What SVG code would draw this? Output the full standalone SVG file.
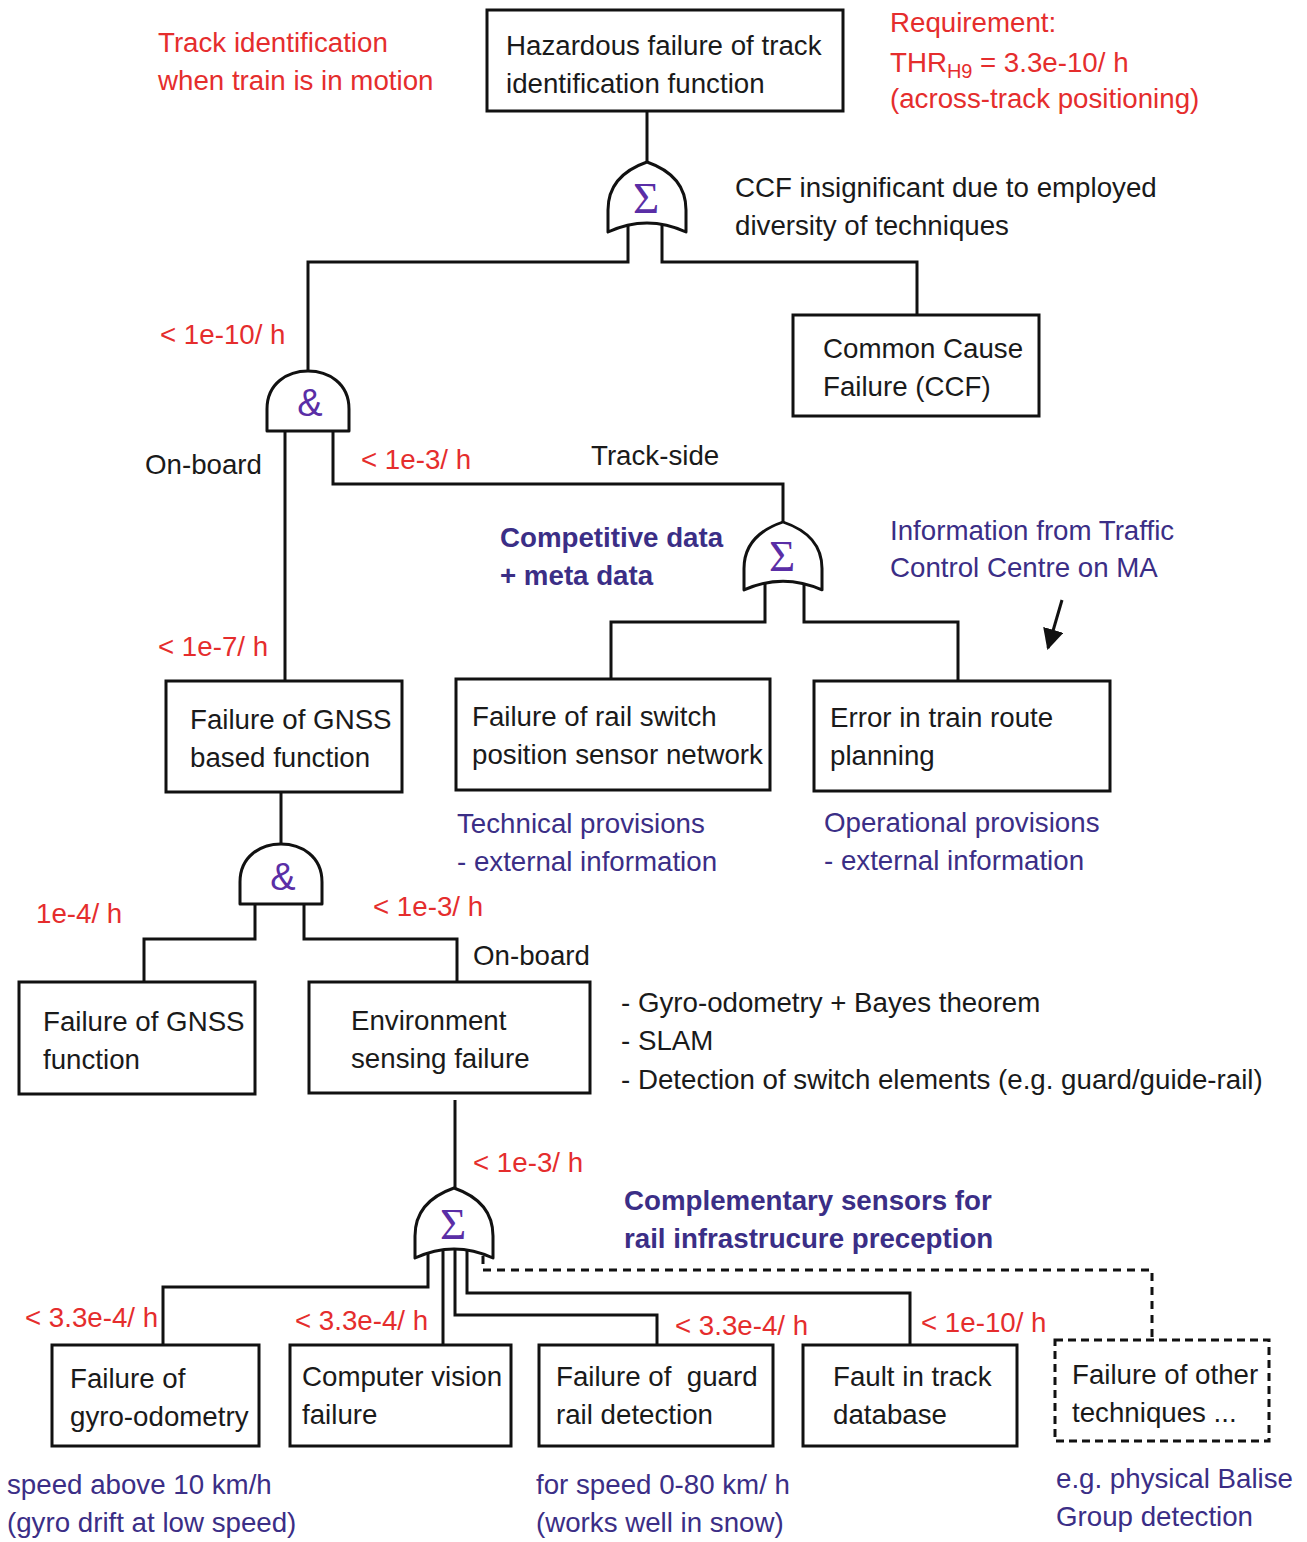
<svg xmlns="http://www.w3.org/2000/svg" width="1307" height="1542" viewBox="0 0 1307 1542">
  <style>
    text { font-family: "Liberation Sans", Arial, sans-serif; font-size: 27.7px; }
    .blk { fill: #1a1a1a; }
    .red { fill: #e52d2d; }
    .pur { fill: #3b2e86; }
    .bold { font-weight: bold; }
    .box { fill: #ffffff; stroke: #111111; stroke-width: 3; }
    .dbox { fill: #ffffff; stroke: #111111; stroke-width: 3; stroke-dasharray: 8 5; }
    .gate { fill: #ffffff; stroke: #111111; stroke-width: 3; stroke-linejoin: round; }
    .wire { fill: none; stroke: #111111; stroke-width: 3; }
    .dwire { fill: none; stroke: #111111; stroke-width: 3; stroke-dasharray: 8 6; }
    .sym { fill: #5a2ea6; text-anchor: middle; }
    .sigma { font-family: "Liberation Serif", "Times New Roman", serif; font-size: 45px; }
    .amp { font-size: 38px; }
  </style>
  <defs>
    <!-- OR gate, origin at the apex -->
    <path id="orGate" d="M0,0 C23,8 39,23 39,48 L39,70 Q0,52 -39,70 L-39,48 C-39,23 -23,8 0,0 Z"/>
    <!-- AND gate, origin at the top of the dome -->
    <path id="andGate" d="M-41,60 L-41,38 C-41,12 -20,0 0,0 C20,0 41,12 41,38 L41,60 Z"/>
    <marker id="head" viewBox="0 0 10 10" refX="9" refY="5" markerWidth="7" markerHeight="7" orient="auto" markerUnits="strokeWidth">
      <path d="M0,0 L10,5 L0,10 Z" fill="#111111"/>
    </marker>
  </defs>
  <rect width="1307" height="1542" fill="#ffffff"/>

  <!-- connectors -->
  <g id="connectors">
    <path class="wire" d="M647,111 V162"/>
    <path class="wire" d="M628,222 V262 H308 V371"/>
    <path class="wire" d="M662,222 V262 H917 V315"/>
    <path class="wire" d="M285,428 V681"/>
    <path class="wire" d="M333,428 V484 H783 V522"/>
    <path class="wire" d="M765,582 V622 H611 V679"/>
    <path class="wire" d="M804,582 V622 H958 V681"/>
    <path class="wire" d="M281,792 V844"/>
    <path class="wire" d="M255,902 V939 H144 V982"/>
    <path class="wire" d="M304,902 V939 H457 V982"/>
    <path class="wire" d="M455,1100 V1188"/>
    <path class="wire" d="M428,1250 V1287 H163 V1345"/>
    <path class="wire" d="M443,1250 V1345"/>
    <path class="wire" d="M455,1250 V1315 H657 V1345"/>
    <path class="wire" d="M467,1250 V1293 H910 V1345"/>
    <path class="dwire" d="M483,1256 V1270 H1152 V1340"/>
    <path class="wire" stroke-width="2" d="M1062,600 L1048,648" marker-end="url(#head)"/>
  </g>

  <!-- gates -->
  <g id="gate-top-or">
    <use href="#orGate" class="gate" transform="translate(647,162)"/>
    <text class="sym sigma" x="646" y="213">Σ</text>
  </g>
  <g id="gate-and-1">
    <use href="#andGate" class="gate" transform="translate(308,371)"/>
    <text class="sym amp" x="310" y="416">&amp;</text>
  </g>
  <g id="gate-trackside-or">
    <use href="#orGate" class="gate" transform="translate(783,522) scale(1,0.97)"/>
    <text class="sym sigma" x="782" y="571">Σ</text>
  </g>
  <g id="gate-and-2">
    <use href="#andGate" class="gate" transform="translate(281,844)"/>
    <text class="sym amp" x="283" y="890">&amp;</text>
  </g>
  <g id="gate-bottom-or">
    <use href="#orGate" class="gate" transform="translate(454,1188)"/>
    <text class="sym sigma" x="453" y="1239">Σ</text>
  </g>

  <!-- nodes -->
  <g id="top-event">
    <rect class="box" x="487" y="10" width="356" height="101"/>
    <text class="blk" x="506" y="55">Hazardous failure of track</text>
    <text class="blk" x="506" y="93">identification function</text>
  </g>
  <g id="ccf">
    <rect class="box" x="793" y="315" width="246" height="101"/>
    <text class="blk" x="823" y="358">Common Cause</text>
    <text class="blk" x="823" y="396">Failure (CCF)</text>
  </g>
  <g id="gnss-based">
    <rect class="box" x="166" y="681" width="236" height="111"/>
    <text class="blk" x="190" y="729">Failure of GNSS</text>
    <text class="blk" x="190" y="767">based function</text>
  </g>
  <g id="rail-switch">
    <rect class="box" x="456" y="679" width="314" height="111"/>
    <text class="blk" x="472" y="726">Failure of rail switch</text>
    <text class="blk" x="472" y="764">position sensor network</text>
  </g>
  <g id="route-planning">
    <rect class="box" x="814" y="681" width="296" height="110"/>
    <text class="blk" x="830" y="727">Error in train route</text>
    <text class="blk" x="830" y="765">planning</text>
  </g>
  <g id="gnss-function">
    <rect class="box" x="19" y="982" width="236" height="112"/>
    <text class="blk" x="43" y="1031">Failure of GNSS</text>
    <text class="blk" x="43" y="1069">function</text>
  </g>
  <g id="env-sensing">
    <rect class="box" x="309" y="982" width="281" height="111"/>
    <text class="blk" x="351" y="1030">Environment</text>
    <text class="blk" x="351" y="1068">sensing failure</text>
  </g>
  <g id="gyro">
    <rect class="box" x="52" y="1345" width="207" height="101"/>
    <text class="blk" x="70" y="1388">Failure of</text>
    <text class="blk" x="70" y="1426">gyro-odometry</text>
  </g>
  <g id="vision">
    <rect class="box" x="290" y="1345" width="221" height="101"/>
    <text class="blk" x="302" y="1386">Computer vision</text>
    <text class="blk" x="302" y="1424">failure</text>
  </g>
  <g id="guard-rail">
    <rect class="box" x="539" y="1345" width="234" height="101"/>
    <text class="blk" x="556" y="1386" xml:space="preserve">Failure of  guard</text>
    <text class="blk" x="556" y="1424">rail detection</text>
  </g>
  <g id="track-db">
    <rect class="box" x="803" y="1345" width="214" height="101"/>
    <text class="blk" x="833" y="1386">Fault in track</text>
    <text class="blk" x="833" y="1424">database</text>
  </g>
  <g id="other-techniques">
    <rect class="dbox" x="1055" y="1340" width="214" height="101"/>
    <text class="blk" x="1072" y="1384">Failure of other</text>
    <text class="blk" x="1072" y="1422">techniques ...</text>
  </g>

  <!-- annotations -->
  <g id="annotations">
    <text class="red" x="158" y="52">Track identification</text>
    <text class="red" x="158" y="90">when train is in motion</text>
    <text class="red" x="890" y="32">Requirement:</text>
    <text class="red" x="890" y="72">THR<tspan font-size="20" dy="6">H9</tspan><tspan x="980" dy="-6">= 3.3e-10/ h</tspan></text>
    <text class="red" x="890" y="108">(across-track positioning)</text>
    <text class="blk" x="735" y="197">CCF insignificant due to employed</text>
    <text class="blk" x="735" y="235">diversity of techniques</text>
    <text class="red" x="160" y="344">&lt; 1e-10/ h</text>
    <text class="blk" x="145" y="474">On-board</text>
    <text class="red" x="361" y="469">&lt; 1e-3/ h</text>
    <text class="blk" x="591" y="465">Track-side</text>
    <text class="pur bold" x="500" y="547" font-size="27.3">Competitive data</text>
    <text class="pur bold" x="500" y="585" font-size="27.3">+ meta data</text>
    <text class="pur" x="890" y="540">Information from Traffic</text>
    <text class="pur" x="890" y="577">Control Centre on MA</text>
    <text class="red" x="158" y="656">&lt; 1e-7/ h</text>
    <text class="pur" x="457" y="833">Technical provisions</text>
    <text class="pur" x="457" y="871">- external information</text>
    <text class="pur" x="824" y="832">Operational provisions</text>
    <text class="pur" x="824" y="870">- external information</text>
    <text class="red" x="36" y="923">1e-4/ h</text>
    <text class="red" x="373" y="916">&lt; 1e-3/ h</text>
    <text class="blk" x="473" y="965">On-board</text>
    <text class="blk" x="621" y="1012">- Gyro-odometry + Bayes theorem</text>
    <text class="blk" x="621" y="1050">- SLAM</text>
    <text class="blk" x="621" y="1089">- Detection of switch elements (e.g. guard/guide-rail)</text>
    <text class="red" x="473" y="1172">&lt; 1e-3/ h</text>
    <text class="pur bold" x="624" y="1210" font-size="27.3">Complementary sensors for</text>
    <text class="pur bold" x="624" y="1248" font-size="27.3">rail infrastrucure preception</text>
    <text class="red" x="25" y="1327">&lt; 3.3e-4/ h</text>
    <text class="red" x="295" y="1330">&lt; 3.3e-4/ h</text>
    <text class="red" x="675" y="1335">&lt; 3.3e-4/ h</text>
    <text class="red" x="921" y="1332">&lt; 1e-10/ h</text>
    <text class="pur" x="7" y="1494">speed above 10 km/h</text>
    <text class="pur" x="7" y="1532">(gyro drift at low speed)</text>
    <text class="pur" x="536" y="1494">for speed 0-80 km/ h</text>
    <text class="pur" x="536" y="1532">(works well in snow)</text>
    <text class="pur" x="1056" y="1488">e.g. physical Balise</text>
    <text class="pur" x="1056" y="1526">Group detection</text>
  </g>
</svg>
